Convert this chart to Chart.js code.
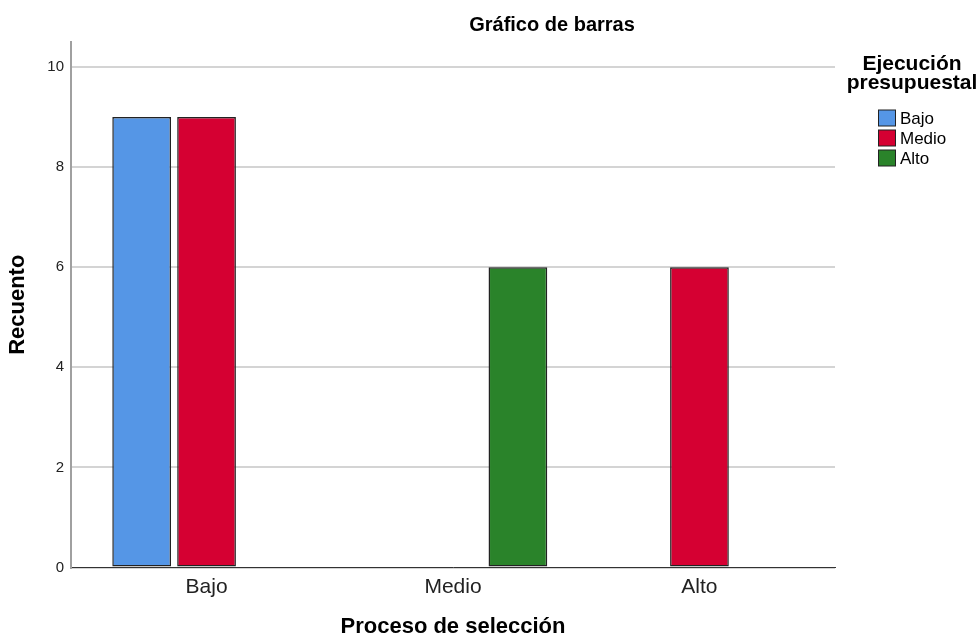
<!DOCTYPE html>
<html><head><meta charset="utf-8">
<script src="https://cdn.jsdelivr.net/npm/chart.js@4/dist/chart.umd.min.js"></script>
<style>html,body{margin:0;padding:0;background:#fff;} #wrap{width:980px;height:640px;position:relative}</style>
</head><body><div id="wrap"><canvas id="c" width="980" height="640"></canvas></div>
<script>
const categories = ['Bajo', 'Medio', 'Alto'];
const seriesNames = ['Bajo', 'Medio', 'Alto'];
const bajoValues = [9, 0, 0];
const medioValues = [9, 0, 6];
const altoValues = [0, 6, 0];
const yTicks = [0, 2, 4, 6, 8, 10];
const chartTitle = 'Gráfico de barras';
const legendTitle = ['Ejecución', 'presupuestal'];
const xTitle = 'Proceso de selección';
const yTitle = 'Recuento';
const colors = ['#5596e6', '#d50032', '#2a832a'];
const FONT = '"Liberation Sans", Arial, sans-serif';

const seriesValues = [bajoValues, medioValues, altoValues];
const datasets = seriesNames.map((name, s) => ({
  label: name,
  data: seriesValues[s].map((v, i) => ({x: i, y: v})),
  backgroundColor: colors[s],
  borderColor: '#222',
  borderWidth: c => (c.raw && c.raw.y === 0) ? 0 : 1.5,
  borderSkipped: false,
  categoryPercentage: 0.79,
  barPercentage: 0.905
}));

const deco = {
  id: 'deco',
  afterDraw(chart) {
    const ctx = chart.ctx;
    ctx.save();
    ctx.fillStyle = '#000';
    ctx.font = 'bold 20px ' + FONT;
    ctx.textAlign = 'center';
    ctx.textBaseline = 'alphabetic';
    ctx.fillText(chartTitle, 552, 31);
    const lx = 912;
    ctx.font = 'bold 21px ' + FONT;
    ctx.fillText(legendTitle[0], lx, 70);
    ctx.fillText(legendTitle[1], lx, 89);
    ctx.font = '17px ' + FONT;
    ctx.textAlign = 'left';
    ctx.textBaseline = 'middle';
    chart.data.datasets.forEach((d, i) => {
      const y = 118 + i * 20;
      ctx.fillStyle = d.backgroundColor;
      ctx.fillRect(878.5, y - 8, 17, 16);
      ctx.strokeStyle = '#222';
      ctx.lineWidth = 1;
      ctx.strokeRect(878.5, y - 8, 17, 16);
      ctx.fillStyle = '#000';
      ctx.fillText(d.label, 900, y + 1);
    });
    ctx.restore();
  }
};

new Chart(document.getElementById('c'), {
  type: 'bar',
  data: { datasets },
  plugins: [deco],
  options: {
    responsive: false,
    devicePixelRatio: 1,
    animation: false,
    layout: { padding: { top: 42, right: 145, left: 0, bottom: 0 } },
    plugins: { legend: { display: false }, title: { display: false }, tooltip: { enabled: false } },
    scales: {
      x: {
        type: 'linear', min: -0.55, max: 2.55, offset: false,
        afterBuildTicks: s => { s.ticks = categories.map((_, i) => ({value: i})); },
        afterFit: s => { s.height = 72.5; },
        grid: { display: false, drawTicks: false, offset: false },
        border: { display: true, color: '#333', width: 1 },
        ticks: { callback: v => categories[v], font: { size: 21, family: FONT }, color: '#222', padding: 7, maxRotation: 0, autoSkip: false },
        title: { display: true, text: xTitle, font: { size: 22, weight: 'bold', family: FONT }, color: '#000', padding: { top: 0, bottom: 0 } }
      },
      y: {
        min: 0, max: 10.5,
        afterBuildTicks: s => { s.ticks = yTicks.map(v => ({value: v})); },
        afterFit: s => { s.width = 71; },
        grid: { color: '#d4d4d4', lineWidth: 2, drawTicks: false },
        border: { color: '#a0a0a0', width: 2 },
        ticks: { font: { size: 15, family: FONT }, color: '#222', padding: 7 },
        title: { display: true, text: yTitle, font: { size: 22, weight: 'bold', family: FONT }, color: '#000', padding: { top: 5, bottom: 0 } }
      }
    }
  }
});
</script></body></html>
